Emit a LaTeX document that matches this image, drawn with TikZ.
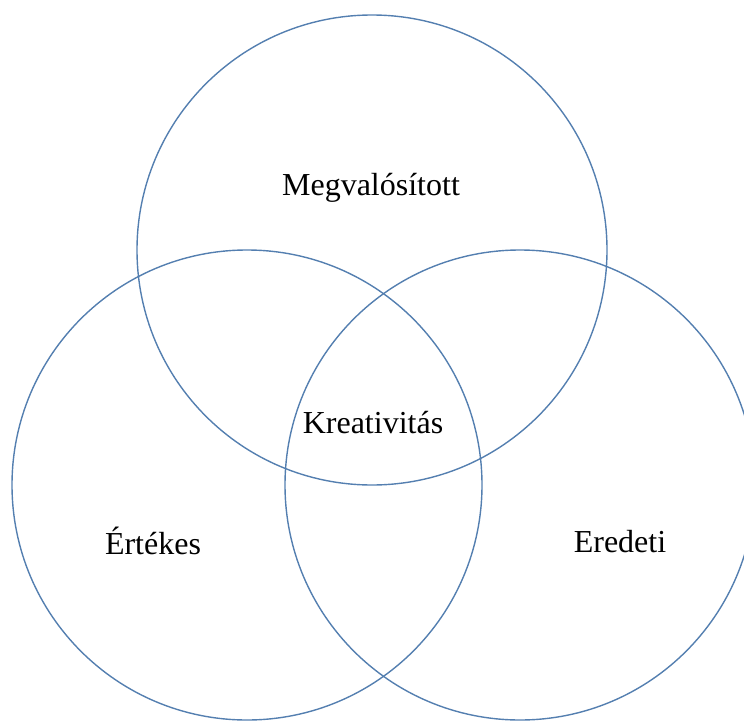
\documentclass[tikz,border=0pt]{standalone}
\usepackage{fontspec}
\setmainfont{Liberation Serif}
\definecolor{vennblue}{RGB}{84,127,176}
\begin{document}
\begin{tikzpicture}[x=1pt,y=-1pt,
	ring/.style={draw=vennblue,line width=1.4pt,circle,minimum size=470pt,inner sep=0pt},
	label/.style={font=\fontsize{32}{36}\selectfont,inner sep=0pt}]
			\useasboundingbox (0,0) rectangle (744,720);
			%CIRCLES
			\node[ring] (megv) at (372,250) {};
			\node[ring] (ertek) at (247,485) {};
			\node[ring] (ered) at (520,485) {};
			%TEXTS
			\node[label] (tmegv) at (371,188) {Megvalósított};
			\node[label] (tertek) at (153,541) {Értékes};
			\node[label] (tered) at (620,542) {Eredeti};
			\node[label] (tkreat) at (373,423) {Kreativitás};
		\end{tikzpicture}
\end{document}
